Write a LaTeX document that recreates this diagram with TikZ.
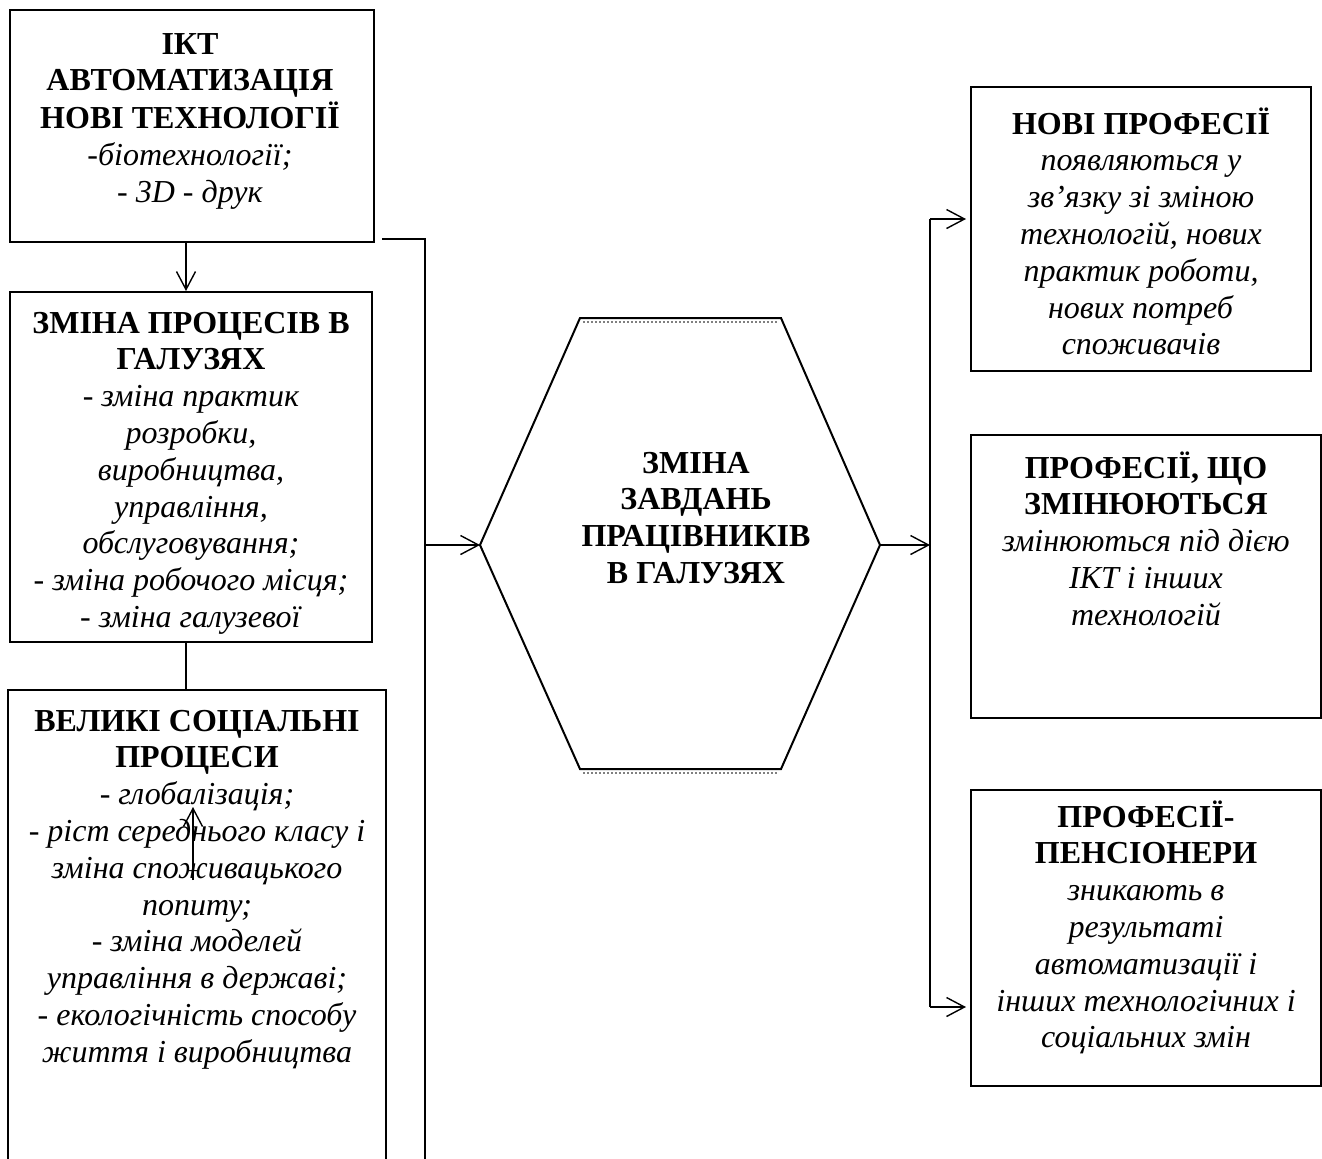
\documentclass[tikz,border=0pt]{standalone}
\usepackage{fontspec}
\setmainfont{Liberation Serif}
\usetikzlibrary{arrows.meta}
% centred block of lines whose baseline is the first line
\newcommand\linesblock[1]{\begin{tabular}[t]{@{}c@{}}#1\end{tabular}}

\begin{document}
\begin{tikzpicture}[x=0.5pt,y=-0.5pt,
  box/.style={draw, line width=1pt, fill=white, inner sep=0pt},
  txt/.style={anchor=base, inner sep=0pt, font=\fontsize{16}{18.4}\selectfont},
  arr/.style={-{Straight Barb[length=9pt,width=9.5pt,line width=0.7pt]}, line width=0.7pt},
  link/.style={line width=0.7pt},
  hexshade/.style={gray, line width=0.6pt, dash pattern=on 1.2pt off 0.8pt}]

\useasboundingbox (0,0) rectangle (1322,1158);

% ---------- left column ----------
\node[box, minimum width=182pt, minimum height=116pt] (ikt) at (192,126) {};
\node[txt] (iktT) at (190,54) {\linesblock{\textbf{ІКТ}\\ \textbf{АВТОМАТИЗАЦІЯ}\\ \textbf{НОВІ ТЕХНОЛОГІЇ}\\ \textit{-біотехнології;}\\ \textit{- 3D - друк}}};

\node[box, minimum width=181pt, minimum height=175pt] (proc) at (191,467) {};
\node[txt] (procT) at (191,333) {\linesblock{\textbf{ЗМІНА ПРОЦЕСІВ В}\\ \textbf{ГАЛУЗЯХ}\\ \textit{- зміна практик}\\ \textit{розробки,}\\ \textit{виробництва,}\\ \textit{управління,}\\ \textit{обслуговування;}\\ \textit{- зміна робочого місця;}\\ \textit{- зміна галузевої}}};

\node[box, minimum width=189pt, minimum height=250pt] (soc) at (197,940) {};
\node[txt] (socT) at (197,731) {\linesblock{\textbf{ВЕЛИКІ СОЦІАЛЬНІ}\\ \textbf{ПРОЦЕСИ}\\ \textit{- глобалізація;}\\ \textit{- ріст середнього класу і}\\ \textit{зміна споживацького}\\ \textit{попиту;}\\ \textit{- зміна моделей}\\ \textit{управління в державі;}\\ \textit{- екологічність способу}\\ \textit{життя і виробництва}}};

% connectors of the left column
\coordinate (colx) at (186,0);
\draw[arr] (ikt.south -| colx) -- (proc.north -| colx);
\draw[link] (proc.south -| colx) -- (soc.north -| colx);
\coordinate (upFrom) at (193,880);
\coordinate (upTo) at (193,807);
\draw[arr] (upFrom) -- (upTo);

% bracket collecting the left column
\coordinate (brkA) at (382,239);
\coordinate (brkB) at (425,239);
\coordinate (brkC) at (425,1170);
\coordinate (brkM) at (425,545);
\draw[link] (brkA) -- (brkB) -- (brkC);

% ---------- central hexagon ----------
\coordinate (hTL) at (580,318);
\coordinate (hTR) at (781,318);
\coordinate (hR)  at (880,545);
\coordinate (hBR) at (781,769);
\coordinate (hBL) at (580,769);
\coordinate (hL)  at (480,545);
\draw[line width=1pt, fill=white, line join=miter] (hTL) -- (hTR) -- (hR) -- (hBR) -- (hBL) -- (hL) -- cycle;
\draw[hexshade] (583,322) -- (778,322);
\draw[hexshade] (583,773) -- (778,773);
\node[txt] (hexT) at (696,473) {\linesblock{\textbf{ЗМІНА}\\ \textbf{ЗАВДАНЬ}\\ \textbf{ПРАЦІВНИКІВ}\\ \textbf{В ГАЛУЗЯХ}}};

\draw[arr] (brkM) -- (hL);

% ---------- right column ----------
\node[box, minimum width=170pt, minimum height=142pt] (newp) at (1141,229) {};
\node[txt] (newpT) at (1141,134) {\linesblock{\textbf{НОВІ ПРОФЕСІЇ}\\ \textit{появляються у}\\ \textit{зв’язку зі зміною}\\ \textit{технологій, нових}\\ \textit{практик роботи,}\\ \textit{нових потреб}\\ \textit{споживачів}}};

\node[box, minimum width=175pt, minimum height=141.5pt] (chg) at (1146,576.5) {};
\node[txt] (chgT) at (1146,478) {\linesblock{\textbf{ПРОФЕСІЇ, ЩО}\\ \textbf{ЗМІНЮЮТЬСЯ}\\ \textit{змінюються під дією}\\ \textit{ІКТ і інших}\\ \textit{технологій}}};

\node[box, minimum width=175pt, minimum height=148pt] (ret) at (1146,938) {};
\node[txt] (retT) at (1146,827) {\linesblock{\textbf{ПРОФЕСІЇ-}\\ \textbf{ПЕНСІОНЕРИ}\\ \textit{зникають в}\\ \textit{результаті}\\ \textit{автоматизації і}\\ \textit{інших технологічних і}\\ \textit{соціальних змін}}};

% distribution bus on the right
\coordinate (busA) at (930,219);
\coordinate (busM) at (930,545);
\coordinate (busC) at (930,1007);
\draw[arr] (hR) -- (busM);
\draw[link] (busA) -- (busC);
\draw[arr, shorten >=2pt] (busA) -- (newp.west |- busA);
\draw[arr, shorten >=2pt] (busC) -- (ret.west |- busC);

\end{tikzpicture}
\end{document}
